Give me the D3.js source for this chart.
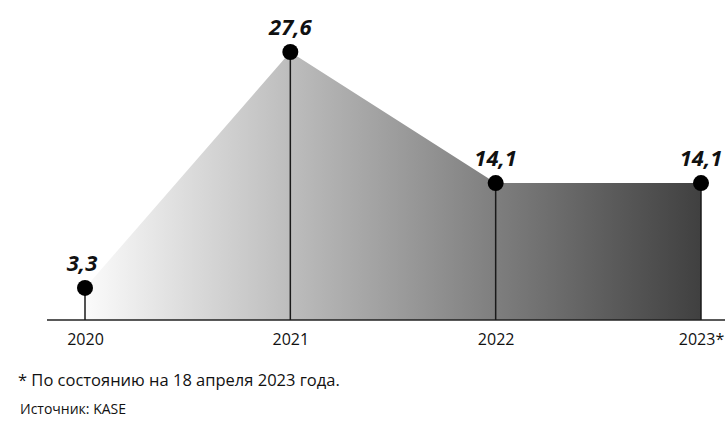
<!DOCTYPE html>
<html><head><meta charset="utf-8">
<script src="https://cdn.jsdelivr.net/npm/d3@7"></script>
<style>body{margin:0;background:#fff}svg{display:block}</style>
</head><body>
<script>
const categories = ["2020", "2021", "2022", "2023*"];
const values = [3.3, 27.6, 14.1, 14.1];
const valueLabels = ["3,3", "27,6", "14,1", "14,1"];
const footnote = "* По состоянию на 18 апреля 2023 года.";
const source = "Источник: KASE";

const W = 725, H = 427;
const svg = d3.select("body").append("svg").attr("width", W).attr("height", H);
const font = "'Open Sans', 'Noto Sans', sans-serif";

const x = d3.scalePoint().domain(categories).range([85, 701]);
const y = d3.scaleLinear().domain([0, 27.6]).range([320, 52]);
const data = categories.map((c, i) => ({c, v: values[i], l: valueLabels[i]}));

const defs = svg.append("defs");
const grad = defs.append("linearGradient").attr("id", "g").attr("gradientUnits", "userSpaceOnUse")
  .attr("x1", x(categories[0])).attr("x2", x(categories[3])).attr("y1", 0).attr("y2", 0);
grad.append("stop").attr("offset", 0).attr("stop-color", "#fbfbfb");
grad.append("stop").attr("offset", 1).attr("stop-color", "#404040");

const area = d3.area().x(d => x(d.c)).y0(y(0)).y1(d => y(d.v));
svg.append("path").datum(data).attr("d", area).attr("fill", "url(#g)");

// baseline axis
const axis = d3.axisBottom(x).tickSize(0).tickPadding(14);
const ax = svg.append("g").attr("transform", `translate(0,${y(0)})`).call(axis);
ax.select(".domain").remove();
ax.append("line").attr("x1", 47).attr("x2", W).attr("y1", 0).attr("y2", 0)
  .attr("stroke", "#222").attr("stroke-width", 1.5);
ax.selectAll(".tick text").attr("font-family", font).attr("font-size", 16).attr("fill", "#111");

// stems
svg.selectAll(".stem").data(data).join("line")
  .attr("x1", d => x(d.c)).attr("x2", d => x(d.c))
  .attr("y1", d => y(d.v)).attr("y2", y(0))
  .attr("stroke", "#1a1a1a").attr("stroke-width", 1.5);

// dots
svg.selectAll(".dot").data(data).join("circle")
  .attr("cx", d => x(d.c)).attr("cy", d => y(d.v)).attr("r", 8).attr("fill", "#000");

// value labels
svg.selectAll(".vl").data(data).join("text")
  .attr("x", (d, i) => x(d.c) + (i === 0 ? -3 : 0))
  .attr("y", d => y(d.v) - 17)
  .attr("text-anchor", "middle")
  .attr("font-family", font).attr("font-size", 22).attr("font-weight", "bold").attr("font-style", "italic")
  .attr("fill", "#111")
  .text(d => d.l);

svg.append("text").attr("x", 18).attr("y", 386).attr("font-family", font).attr("font-size", 16.5)
  .attr("fill", "#111").text(footnote);
svg.append("text").attr("x", 20).attr("y", 414).attr("font-family", font).attr("font-size", 14)
  .attr("fill", "#111").text(source);
</script>
</body></html>
